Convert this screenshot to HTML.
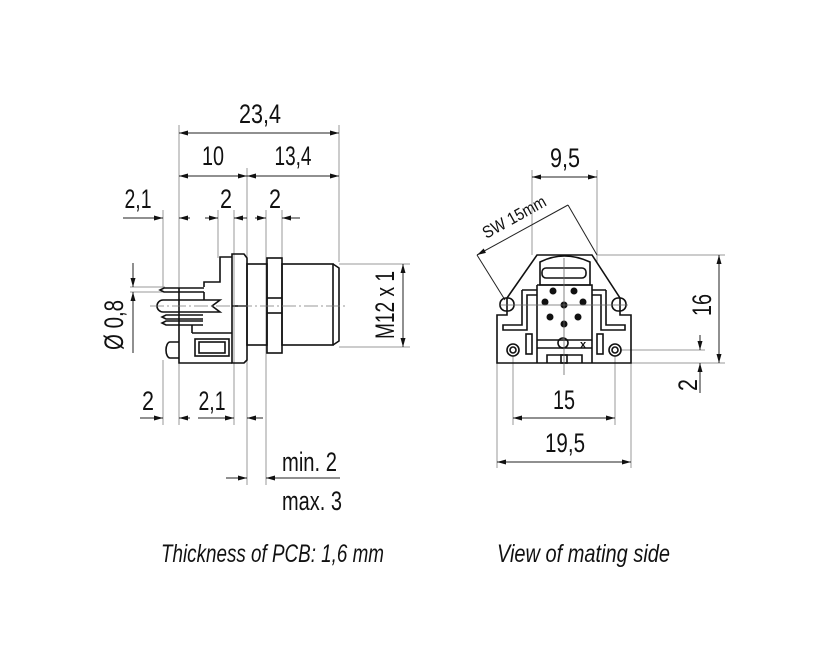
<!DOCTYPE html>
<html><head><meta charset="utf-8"><style>
html,body{margin:0;padding:0;background:#fff;}
svg{display:block;}
text{font-family:"Liberation Sans",sans-serif;fill:#111;}
</style></head><body>
<svg width="822" height="669" viewBox="0 0 822 669" xmlns="http://www.w3.org/2000/svg">
<defs>
<marker id="a" markerWidth="9" markerHeight="5" refX="9" refY="2.5" orient="auto-start-reverse" markerUnits="userSpaceOnUse"><path d="M0,0 L9,2.5 L0,5 z" fill="#111"/></marker>
</defs>
<g stroke="#999" stroke-width="1" fill="none">
<line x1="179" y1="125" x2="179" y2="425"/>
<line x1="339" y1="125" x2="339" y2="262"/>
<line x1="247" y1="168" x2="247" y2="485"/>
<line x1="163" y1="210" x2="163" y2="288"/>
<line x1="163" y1="360" x2="163" y2="425"/>
<line x1="218" y1="210" x2="218" y2="258"/>
<line x1="234" y1="210" x2="234" y2="425"/>
<line x1="266" y1="210" x2="266" y2="485"/>
<line x1="282" y1="210" x2="282" y2="258"/>
<line x1="130" y1="287" x2="165" y2="287"/>
<line x1="130" y1="292" x2="165" y2="292"/>
<line x1="339" y1="264" x2="410" y2="264"/>
<line x1="339" y1="347" x2="410" y2="347"/>
<line x1="532" y1="170" x2="532" y2="255"/>
<line x1="597" y1="170" x2="597" y2="262"/>
<line x1="597" y1="255" x2="725" y2="255"/>
<line x1="631" y1="363" x2="725" y2="363"/>
<line x1="620" y1="350" x2="705" y2="350"/>
<line x1="497" y1="363" x2="497" y2="468"/>
<line x1="631" y1="363" x2="631" y2="468"/>
<line x1="513" y1="356" x2="513" y2="425"/>
<line x1="615" y1="356" x2="615" y2="425"/>
</g>
<g stroke="#222" stroke-width="1" fill="none">
<line x1="179" y1="133" x2="339" y2="133" marker-start="url(#a)" marker-end="url(#a)"/>
<line x1="179" y1="176" x2="247" y2="176" marker-start="url(#a)" marker-end="url(#a)"/>
<line x1="247" y1="176" x2="339" y2="176" marker-start="url(#a)" marker-end="url(#a)"/>
<line x1="123" y1="218" x2="163" y2="218" marker-end="url(#a)"/>
<line x1="179" y1="218" x2="190" y2="218" marker-start="url(#a)"/>
<line x1="205" y1="218" x2="218" y2="218" marker-end="url(#a)"/>
<line x1="234" y1="218" x2="247" y2="218" marker-start="url(#a)"/>
<line x1="255" y1="218" x2="266" y2="218" marker-end="url(#a)"/>
<line x1="282" y1="218" x2="300" y2="218" marker-start="url(#a)"/>
<line x1="133" y1="263" x2="133" y2="287" marker-end="url(#a)"/>
<line x1="133" y1="292" x2="133" y2="353" marker-start="url(#a)"/>
<line x1="403" y1="264" x2="403" y2="347" marker-start="url(#a)" marker-end="url(#a)"/>
<line x1="140" y1="418" x2="163" y2="418" marker-end="url(#a)"/>
<line x1="179" y1="418" x2="190" y2="418" marker-start="url(#a)"/>
<line x1="198" y1="418" x2="234" y2="418" marker-end="url(#a)"/>
<line x1="247" y1="418" x2="263" y2="418" marker-start="url(#a)"/>
<line x1="226" y1="478" x2="247" y2="478" marker-end="url(#a)"/>
<line x1="266" y1="478" x2="340" y2="478" marker-start="url(#a)"/>
<line x1="532" y1="177" x2="597" y2="177" marker-start="url(#a)" marker-end="url(#a)"/>
<line x1="477" y1="255" x2="568" y2="205" marker-start="url(#a)"/>
<line x1="477" y1="255" x2="505" y2="300"/>
<line x1="568" y1="205" x2="597" y2="255"/>
<line x1="719" y1="255" x2="719" y2="363" marker-start="url(#a)" marker-end="url(#a)"/>
<line x1="700" y1="335" x2="700" y2="350" marker-end="url(#a)"/>
<line x1="700" y1="363" x2="700" y2="393" marker-start="url(#a)"/>
<line x1="513" y1="418" x2="615" y2="418" marker-start="url(#a)" marker-end="url(#a)"/>
<line x1="497" y1="462" x2="631" y2="462" marker-start="url(#a)" marker-end="url(#a)"/>
</g>
<g stroke="#111" stroke-width="1.6" fill="none">
<path d="M232,254 L244,254 L247,258 L247,360 L244,363 L232,363 Z"/>
<line x1="232" y1="306" x2="247" y2="306"/>
<rect x="247" y="264" width="20" height="81"/>
<rect x="267" y="258" width="15" height="95"/>
<line x1="267" y1="298" x2="282" y2="298"/>
<line x1="267" y1="313" x2="282" y2="313"/>
<rect x="282" y="264" width="51" height="81"/>
<path d="M333,264 L339,268 L339,341 L333,345"/>
<path d="M232,257 L220,257 L220,282 L204,282 L204,287"/>
<path d="M179,288 L179,363 L232,363"/>
<path d="M192,333 L232,333"/>
<rect x="195" y="339" width="34" height="17"/>
<rect x="199" y="342" width="26" height="11"/>
<path d="M204,288 L164,288 L160,290 L164,292 L204,292"/>
<path d="M220,300 L163,300 A6,6 0 0 0 163,312 L220,312 L212,306 Z"/>
<path d="M203,315 L166,315 L162,317 L166,319 L203,319"/>
<path d="M203,321 L166,321 L162,323 L166,325 L203,325"/>
<path d="M179,342 L170,342 A4,8 0 0 0 170,358 L179,358"/>
<line x1="204" y1="292" x2="204" y2="300"/>
<line x1="192" y1="325" x2="192" y2="333"/>
</g>
<line x1="150" y1="306" x2="345" y2="306" stroke="#777" stroke-width="0.8" stroke-dasharray="14,3,2,3"/>
<g stroke="#111" stroke-width="1.6" fill="none">
<path d="M537,255 L592,255 L620,298 L620,315 L631,315 L631,363 L497,363 L497,315 L507,315 L507,298 Z"/>
<path d="M540,262 Q564,250 590,262 L590,285 L540,285 Z"/>
<rect x="542" y="268" width="44" height="10" rx="4"/>
<path d="M537,285 L592,285 L592,363 M537,285 L537,363"/>
<path d="M537,340 L592,340 M537,348 L592,348"/>
<path d="M547,363 L547,355 L582,355 L582,363"/>
<rect x="561" y="355" width="6" height="8"/>
<path d="M522,290 L537,290 M522,290 L522,325 L503,325 L503,330 L527,330 L527,295 L537,295"/>
<path d="M606,290 L592,290 M606,290 L606,325 L625,325 L625,330 L601,330 L601,295 L592,295"/>
<rect x="526" y="334" width="6" height="20"/>
<rect x="597" y="334" width="6" height="20"/>
<circle cx="513" cy="350" r="6"/><circle cx="513" cy="350" r="3"/>
<circle cx="615" cy="350" r="6"/><circle cx="615" cy="350" r="3"/>
<rect x="500" y="298" width="14" height="13" rx="6"/>
<rect x="612" y="298" width="14" height="13" rx="6"/>
<circle cx="563" cy="343" r="5"/>
</g>
<g fill="#111">
<circle cx="553" cy="291" r="3.5"/><circle cx="574" cy="291" r="3.5"/>
<circle cx="545" cy="302" r="3.5"/><circle cx="564" cy="305" r="3.5"/>
<circle cx="583" cy="302" r="3.5"/><circle cx="550" cy="317" r="3.5"/>
<circle cx="578" cy="317" r="3.5"/><circle cx="564" cy="324" r="3.5"/>
</g>
<text x="580" y="348" font-size="11" font-weight="bold">x</text>
<g stroke="#666" stroke-width="0.8">
<line x1="564" y1="258" x2="564" y2="375"/>
<line x1="500" y1="305" x2="628" y2="305"/>
</g>
<g font-size="27">
<text x="260" y="123" text-anchor="middle" textLength="42" lengthAdjust="spacingAndGlyphs">23,4</text>
<text x="213" y="165" text-anchor="middle" textLength="22" lengthAdjust="spacingAndGlyphs">10</text>
<text x="293" y="165" text-anchor="middle" textLength="37" lengthAdjust="spacingAndGlyphs">13,4</text>
<text x="138" y="208" text-anchor="middle" textLength="27" lengthAdjust="spacingAndGlyphs">2,1</text>
<text x="226" y="208" text-anchor="middle" textLength="12" lengthAdjust="spacingAndGlyphs">2</text>
<text x="275" y="208" text-anchor="middle" textLength="12" lengthAdjust="spacingAndGlyphs">2</text>
<text x="148" y="410" text-anchor="middle" textLength="12" lengthAdjust="spacingAndGlyphs">2</text>
<text x="212" y="410" text-anchor="middle" textLength="27" lengthAdjust="spacingAndGlyphs">2,1</text>
<text x="282" y="471" textLength="55" lengthAdjust="spacingAndGlyphs">min. 2</text>
<text x="282" y="510" textLength="60" lengthAdjust="spacingAndGlyphs">max. 3</text>
<text transform="translate(123,325) rotate(-90)" text-anchor="middle" textLength="50" lengthAdjust="spacingAndGlyphs">Ø 0,8</text>
<text transform="translate(394,305) rotate(-90)" text-anchor="middle" textLength="68" lengthAdjust="spacingAndGlyphs">M12 x 1</text>
<text x="565" y="167" text-anchor="middle" textLength="30" lengthAdjust="spacingAndGlyphs">9,5</text>
<text transform="translate(711,305) rotate(-90)" text-anchor="middle" textLength="22" lengthAdjust="spacingAndGlyphs">16</text>
<text transform="translate(697,385) rotate(-90)" text-anchor="middle" textLength="12" lengthAdjust="spacingAndGlyphs">2</text>
<text x="564" y="409" text-anchor="middle" textLength="22" lengthAdjust="spacingAndGlyphs">15</text>
<text x="565" y="452" text-anchor="middle" textLength="40" lengthAdjust="spacingAndGlyphs">19,5</text>
</g>
<text transform="translate(517,222) rotate(-29)" text-anchor="middle" font-size="17" textLength="70" lengthAdjust="spacingAndGlyphs">SW 15mm</text>
<g font-size="25" font-style="italic">
<text x="161" y="562" textLength="223" lengthAdjust="spacingAndGlyphs">Thickness of PCB: 1,6 mm</text>
<text x="497" y="562" textLength="173" lengthAdjust="spacingAndGlyphs">View of mating side</text>
</g>
</svg>
</body></html>
